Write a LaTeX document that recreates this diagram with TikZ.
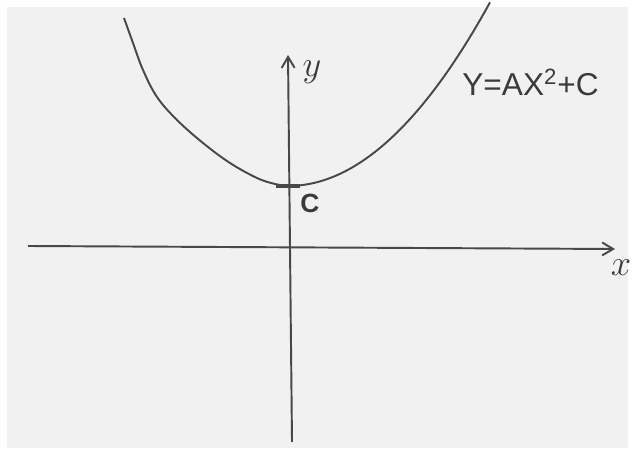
\documentclass[tikz,border=0pt]{standalone}
\usepackage{amsmath}
\usepackage{fontspec}
\setsansfont{Liberation Sans}
\usetikzlibrary{arrows.meta, positioning}
\definecolor{paper}{RGB}{241,241,241}
\definecolor{ink}{RGB}{72,72,72}

\begin{document}
\begin{tikzpicture}[x=0.02cm,y=-0.02cm,
    axis/.style={draw=ink,line width=1.1pt,-{Straight Barb[length=2.2mm,width=2.6mm]}},
    curve/.style={draw=ink,line width=1.1pt},
    lbl/.style={text=ink!80!black,inner sep=0pt}]
  \useasboundingbox (0,0) rectangle (634,455);
  \fill[white](0,0)rectangle(634,455);
  \fill[paper](7,7)rectangle(628,448);
  % axes
  \coordinate (xl) at (28,246);
  \coordinate (xr) at (615,249);
  \coordinate (yb) at (292,442);
  \coordinate (yt) at (288,55);
  \draw[axis] (xl) -- (xr);
  \draw[axis] (yb) -- (yt);
  % parabola
  \coordinate (vtx) at (288,186);
  \draw[curve] plot[smooth,tension=0.6] coordinates
    {(124,18) (133,43) (143,70) (157,97) (177,120) (203,143) (230,163)
     (257,178) (275,184) (vtx)}
    -- plot[domain=0:202,samples=40] ({\x+288},{186-0.45*(\x/10)^2});
  \draw[ink,line width=2pt] (276,186) -- (300,186);
  % labels
  \node[lbl,font=\fontsize{20}{22}\selectfont] (ylab) at (312,72) {$y$};
  \node[lbl,font=\sffamily\bfseries\fontsize{15}{18}\selectfont] (clab) at (310,203) {C};
  \node[lbl,font=\fontsize{20}{22}\selectfont] (xlab) at (621,268) {$x$};
  \node[lbl,font=\sffamily\fontsize{18}{20}\selectfont,anchor=west] (eqn) at (462,82) {Y=AX\textsuperscript{2}+C};
\end{tikzpicture}
\end{document}
